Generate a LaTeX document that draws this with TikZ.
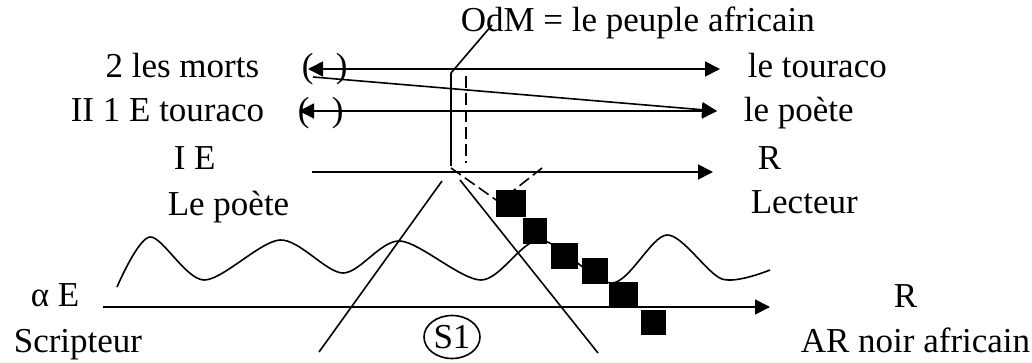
\documentclass[tikz,border=0pt]{standalone}
\usepackage{fontspec}
\setmainfont{Liberation Serif}
\usetikzlibrary{arrows.meta,shapes.geometric}

\begin{document}
\begin{tikzpicture}[x=1pt,y=-1pt,line width=1.6pt,
  >={Triangle[length=15pt,width=15pt]},
  lbl/.style={inner sep=0pt,font=\fontsize{35}{40}\selectfont},
  blk/.style={fill=black,inner sep=0pt,minimum width=27pt,minimum height=26pt},
  dsh/.style={dash pattern=on 12pt off 5pt}]
  \useasboundingbox (0,0) rectangle (1032,363);

  \node[lbl,anchor=base west] (odm) at (460,32) {OdM = le peuple africain};
  \node[lbl,anchor=base east] (morts) at (260,78) {2 les morts};
  \node[lbl,anchor=base east] (touracoL) at (265,122) {II 1 E touraco};
  \node[lbl,anchor=base west] (ie) at (173,170) {I E};
  \node[lbl,anchor=base west] (poeteL) at (167,215) {Le poète};
  \node[lbl,anchor=base west] (alphaE) at (30,306) {α E};
  \node[lbl,anchor=base west] (scrip) at (13,352) {Scripteur};
  \node[lbl,anchor=base west] (touracoR) at (747,78) {le touraco};
  \node[lbl,anchor=base west] (poeteR) at (743,122) {le poète};
  \node[lbl,anchor=base west] (rtop) at (757,170) {R};
  \node[lbl,anchor=base west] (lecteur) at (750,214) {Lecteur};
  \node[lbl,anchor=base west] (rbot) at (893,307) {R};
  \node[lbl,anchor=base west] (arnoir) at (800,352) {AR noir africain};
  \node[lbl,draw,ellipse,minimum width=56pt,minimum height=43pt] (s1) at (452,337) {S1};

  \node[lbl,anchor=base west] (lpA) at (301,78) {(};
  \node[lbl,anchor=base west] (rpA) at (335,78) {)};
  \node[lbl,anchor=base west] (lpB) at (297,122) {(};
  \node[lbl,anchor=base west] (rpB) at (331,122) {)};

  \coordinate (hA1) at (308,69);  \coordinate (hA2) at (720,69);
  \coordinate (hB1) at (299,111); \coordinate (hB2) at (717,111);
  \coordinate (dg) at (313,77);
  \coordinate (hC1) at (312,172); \coordinate (hC2) at (713,172);
  \coordinate (hD1) at (103,307); \coordinate (hD2) at (770,307);
  \coordinate (pk) at (492,25);
  \coordinate (vt) at (451,73);   \coordinate (vb) at (451,166);
  \coordinate (dt) at (466,76);   \coordinate (db) at (466,163);
  \coordinate (vL) at (451,168);  \coordinate (vM) at (499,202);
  \coordinate (vR) at (542,168);
  \coordinate (cLt) at (442,181); \coordinate (cLb) at (319,352);
  \coordinate (cRt) at (460,180); \coordinate (cRb) at (598,353);

  \draw plot[smooth] coordinates {(117,287) (150,237) (204,280) (280,240)
    (343,273) (400,241) (481,280) (540,240) (612,283) (667,235) (722,279)
    (770,270)};
  \draw (cLt) -- (cLb);
  \draw (cRt) -- (cRb);
  \draw[dsh] (vL) -- (vM) -- (vR);
  \draw (pk) -- (vt) -- (vb);
  \draw[dsh] (dt) -- (db);

  \draw[<->] (hA1) -- (hA2);
  \draw[<->] (hB1) -- (hB2);
  \draw[->] (dg) -- (hB2);
  \draw[->] (hC1) -- (hC2);
  \draw[->] (hD1) -- (hD2);

  \node[blk,minimum width=30pt,minimum height=27pt] (sqA) at (511,203.5) {};
  \node[blk,minimum width=24pt] (sqB) at (535,231) {};
  \node[blk] (sqC) at (564.5,256) {};
  \node[blk,minimum width=26pt] (sqD) at (595,271) {};
  \node[blk,minimum width=29pt] (sqE) at (623.5,295) {};
  \node[blk,minimum width=25pt,minimum height=25pt] (sqF) at (653,322) {};
\end{tikzpicture}
\end{document}
